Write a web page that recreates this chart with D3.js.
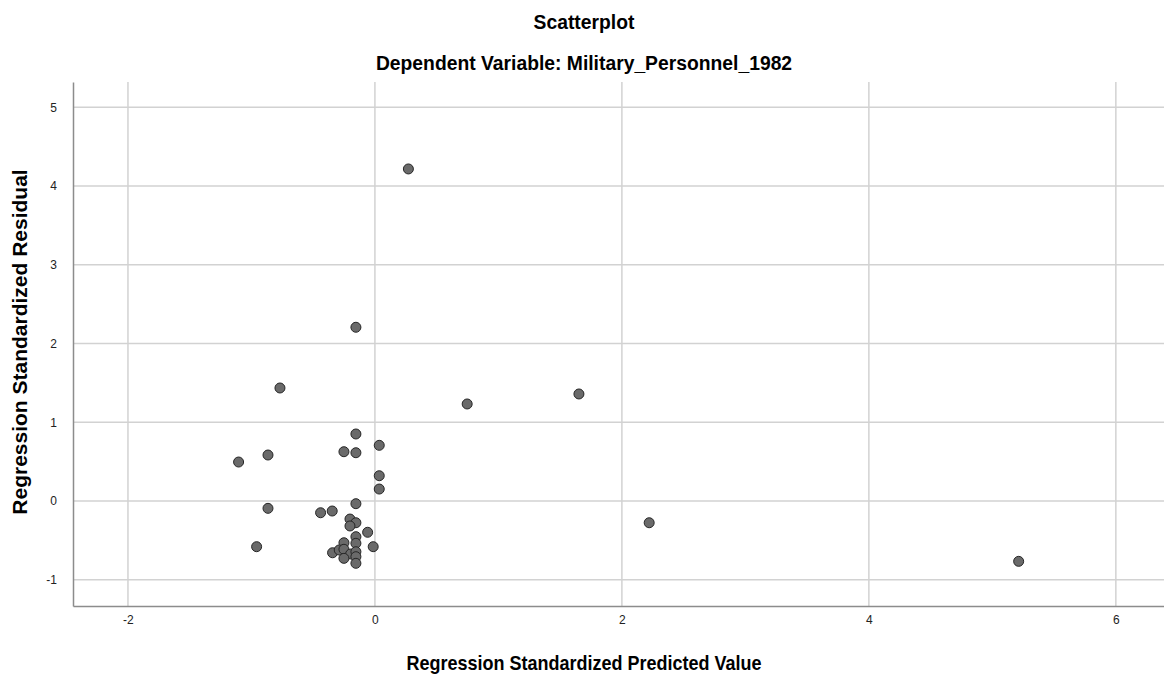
<!DOCTYPE html>
<html><head><meta charset="utf-8">
<script src="https://cdn.jsdelivr.net/npm/d3@7"></script>
<style>body{margin:0;background:#fff;} text{font-family:"Liberation Sans",Arial,sans-serif;}</style>
</head><body>
<svg id="chart" width="1164" height="677"></svg>
<script>
const title = "Scatterplot";
const subtitle = "Dependent Variable: Military_Personnel_1982";
const xLabel = "Regression Standardized Predicted Value";
const yLabel = "Regression Standardized Residual";
const xTicks = [-2, 0, 2, 4, 6];
const yTicks = [-1, 0, 1, 2, 3, 4, 5];
const predicted = [-0.154, 0.035, -0.251, -0.154, -0.866, -1.104, 0.035, 0.035, -0.154, -0.866,
  -0.44, -0.346, -0.202, -0.154, -0.202, -0.059, -0.154, -0.154, -0.251, -0.958,
  -0.014, -0.343, -0.289, -0.251, -0.197, -0.154, -0.154, -0.251, -0.154,
  0.271, -0.154, -0.769, 0.747, 1.652, 2.221, 5.213];
const residual = [0.851, 0.707, 0.626, 0.613, 0.584, 0.495, 0.321, 0.152, -0.034, -0.093,
  -0.149, -0.127, -0.229, -0.276, -0.317, -0.397, -0.453, -0.537, -0.53, -0.58,
  -0.58, -0.657, -0.622, -0.613, -0.673, -0.644, -0.707, -0.728, -0.791,
  4.216, 2.206, 1.435, 1.232, 1.359, -0.276, -0.766];

const svg = d3.select("#chart");
const L = 73, R = 1164, T = 82, B = 606;
const x = d3.scaleLinear().domain([-2.445, 6.39]).range([L, R]);
const y = d3.scaleLinear().domain([-1.333, 5.32]).range([B, T]);

// gridlines
svg.append("g").selectAll("line").data(yTicks).join("line")
  .attr("x1", L).attr("x2", R).attr("y1", d => y(d)).attr("y2", d => y(d))
  .attr("stroke", "#d2d2d2").attr("stroke-width", 1.5);
svg.append("g").selectAll("line").data(xTicks).join("line")
  .attr("x1", d => x(d)).attr("x2", d => x(d)).attr("y1", T).attr("y2", B)
  .attr("stroke", "#d2d2d2").attr("stroke-width", 1.5);

// axes
const fmt = d => String(d);
const xAxis = svg.append("g").attr("transform", `translate(0,${B})`)
  .call(d3.axisBottom(x).tickValues(xTicks).tickSize(0).tickPadding(9).tickFormat(fmt));
const yAxis = svg.append("g").attr("transform", `translate(${L},0)`)
  .call(d3.axisLeft(y).tickValues(yTicks).tickSize(0).tickPadding(16).tickFormat(fmt));
[xAxis, yAxis].forEach(a => {
  a.select(".domain").attr("stroke", "#8c8c8c").attr("stroke-width", 1.5);
  a.selectAll("text").attr("font-size", 12).attr("fill", "#222")
    .attr("font-family", "'Liberation Sans', Arial, sans-serif");
});

// points
svg.append("g").selectAll("circle").data(predicted.map((p, i) => [p, residual[i]])).join("circle")
  .attr("cx", d => x(d[0])).attr("cy", d => y(d[1])).attr("r", 5)
  .attr("fill", "#6a6a6a").attr("stroke", "#262626").attr("stroke-width", 1);

// titles
svg.append("text").attr("transform", "translate(584,29) scale(0.92,1)").attr("text-anchor", "middle")
  .attr("font-size", 21).attr("font-weight", "bold").text(title);
svg.append("text").attr("transform", "translate(584,70) scale(0.92,1)").attr("text-anchor", "middle")
  .attr("font-size", 21).attr("font-weight", "bold").text(subtitle);
svg.append("text").attr("transform", "translate(584,670) scale(0.9,1)").attr("text-anchor", "middle")
  .attr("font-size", 20).attr("font-weight", "bold").text(xLabel);
svg.append("text").attr("transform", "translate(27,342) rotate(-90)").attr("text-anchor", "middle")
  .attr("font-size", 21).attr("font-weight", "bold").text(yLabel);
</script>
</body></html>
